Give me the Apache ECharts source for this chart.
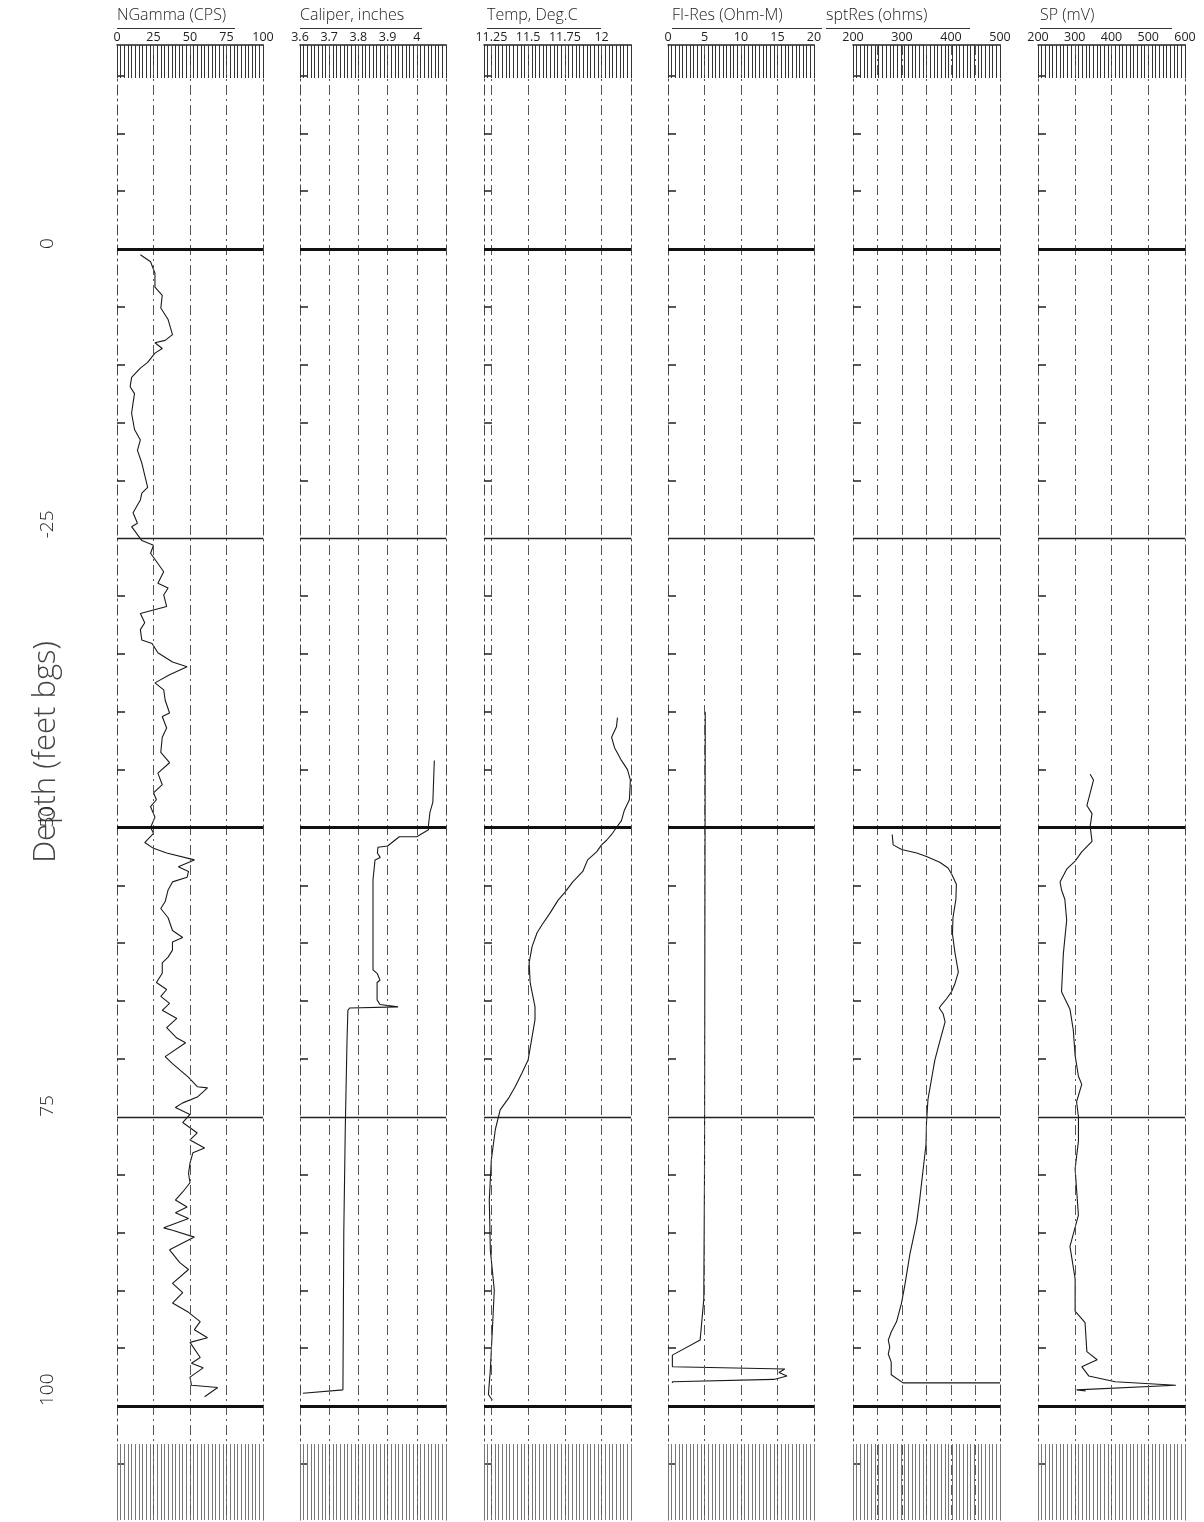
<!DOCTYPE html>
<html><head><meta charset="utf-8">
<script src="https://cdn.jsdelivr.net/npm/echarts@6/dist/echarts.min.js"></script>
<style>html,body{margin:0;padding:0;background:#fff}#c{width:1204px;height:1522px}</style>
</head><body><div id="c"></div>
<script>
// ---------------- data ----------------
const trackTitles = ['NGamma (CPS)', 'Caliper, inches', 'Temp, Deg.C', 'FI-Res (Ohm-M)', 'sptRes (ohms)', 'SP (mV)'];

const depthLabelValues = [0, 25, 50, 75, 100];
const depthLabels = ['0', '-25', '50', '75', '100'];
const majorDepths = [0, 50, 100];
const minorDepths = [25, 75];
const depthTickMarks = [-15, -10, -5, 5, 10, 15, 20, 30, 35, 40, 45, 55, 60, 65, 70, 80, 85, 90, 95, 105];

const gammaTicks = [0, 25, 50, 75, 100];
const gammaTickLabels = ['0', '25', '50', '75', '100'];
const gammaGrid = [25, 50, 75];
const gammaDepth = [0.5,1.1,2.1,3.3,4.0,5.1,6.1,7.4,7.9,8.1,8.6,9.0,9.8,10.3,11.1,11.9,12.5,13.3,14.2,15.6,16.5,17.4,18.5,20.6,21.1,21.7,22.8,23.7,24.0,25.2,25.6,26.3,27.9,28.9,29.3,29.9,30.9,31.2,31.5,32.3,32.9,33.8,34.1,34.9,35.7,36.1,36.8,37.5,38.1,39.0,40.1,40.4,41.4,42.2,43.5,44.4,45.3,46.3,47.0,47.6,48.2,49.1,50.0,50.5,51.3,51.8,52.2,52.8,53.4,53.8,54.3,54.7,55.4,56.4,57.0,57.8,58.9,59.5,59.9,60.6,61.2,61.7,62.6,63.4,64.0,64.6,65.2,65.8,66.5,67.3,68.2,68.6,69.8,70.4,71.6,72.4,72.5,73.3,73.8,74.2,74.8,75.5,76.4,77.0,77.7,78.1,79.0,79.9,80.7,81.5,82.2,82.8,83.3,83.8,84.6,84.8,85.4,86.5,87.6,88.2,89.4,90.2,91.1,91.9,92.7,93.4,94.1,94.5,95.8,96.3,96.7,97.5,98.2,98.4,99.2];
const gammaValues = [16,23,26,26,31,30,35,38,33,26,31,26,21,16,10,9,12,11,10,12,16,14,17,21,17,16,11,14,10,17,25,23,32,28,35,32,34,25,16,19,16,17,24,28,38,48,36,26,32,33,36,31,34,31,30,36,28,31,25,27,23,26,23,25,19,25,34,53,42,49,48,38,35,33,30,35,38,45,38,38,35,31,31,27,34,30,36,31,41,34,41,47,33,38,49,55,62,55,45,40,50,45,55,50,60,52,50,49,50,45,40,48,40,49,32,38,53,36,43,49,38,45,38,49,57,53,62,50,57,51,59,50,51,69,60];

const caliperTicks = [3.6, 3.7, 3.8, 3.9, 4.0];
const caliperTickLabels = ['3.6', '3.7', '3.8', '3.9', '4'];
const caliperGrid = [3.7, 3.8, 3.9, 4.0];
const caliperDepth = [44.2,47.8,48.7,49.8,50.2,50.8,50.8,51.6,51.7,52.2,52.6,52.8,54.5,62.3,62.6,63.2,63.4,64.9,65.3,65.5,65.6,65.8,68.4,76.1,85.0,98.6,98.9];
const caliperValues = [4.06,4.055,4.045,4.04,4.04,4.0,3.94,3.90,3.867,3.865,3.875,3.857,3.85,3.85,3.864,3.874,3.864,3.864,3.874,3.936,3.77,3.764,3.761,3.755,3.75,3.747,3.61];

const tempTicks = [11.25, 11.5, 11.75, 12];
const tempTickLabels = ['11.25', '11.5', '11.75', '12'];
const tempGrid = [11.25, 11.5, 11.75, 12];
const tempDepth = [40.5,41.3,42.2,43.1,44.2,45.0,45.9,47.6,48.5,49.4,50.0,50.5,51.1,51.5,52.1,52.8,53.8,54.7,55.6,56.3,57.4,58.4,59.1,60.3,61.7,63.4,65.5,66.6,68.1,70.1,71.2,72.4,73.3,74.4,76.1,78.7,82.2,86.5,90.0,93.4,96.9,99.0,99.5];
const tempValues = [12.108,12.101,12.068,12.088,12.135,12.176,12.196,12.189,12.155,12.135,12.101,12.074,12.034,12.0,11.966,11.905,11.872,11.804,11.75,11.703,11.649,11.595,11.561,11.527,11.507,11.514,11.547,11.547,11.527,11.5,11.459,11.412,11.372,11.31,11.277,11.25,11.236,11.243,11.27,11.257,11.243,11.23,11.257];

const resTicks = [0, 5, 10, 15, 20];
const resTickLabels = ['0', '5', '10', '15', '20'];
const resGrid = [5, 10, 15];
const resDepth = [40.0,42.5,60.0,80.0,90.8,94.3,95.6,96.6,96.8,97.1,97.4,97.7,97.9,98.0];
const resValues = [5.1,5.1,5.05,5.0,4.9,4.4,0.6,0.6,16.0,15.2,16.3,14.5,0.6,0.6];

const sptTicks = [200, 300, 400, 500];
const sptTickLabels = ['200', '300', '400', '500'];
const sptGrid = [250, 300, 350, 400, 450];
const sptDepth = [50.6,51.5,51.9,52.2,52.5,53.0,53.5,54.0,54.9,56.2,57.8,59.2,60.8,62.5,63.5,64.2,64.8,65.3,65.6,66.1,66.8,68.5,70.1,71.8,73.5,75.5,77.4,79.6,82.2,84.1,86.9,89.5,91.1,92.7,93.6,94.3,94.9,95.5,96.2,97.3,98.0,98.0];
const sptValues = [280,282,299,330,350,377,394,401,411,410,404,403,408,415,408,401,391,381,376,384,388,377,367,360,353,350,349,343,336,330,316,306,299,289,278,272,275,272,278,278,302,500];

const spTicks = [200, 300, 400, 500, 600];
const spTickLabels = ['200', '300', '400', '500', '600'];
const spGrid = [300, 400, 500];
const spDepth = [45.4,45.9,47.0,48.1,48.8,49.9,51.2,52.1,52.9,53.6,54.7,55.4,56.2,58.0,60.9,64.2,65.7,67.5,69.7,71.5,72.2,73.7,75.0,77.1,79.5,83.5,86.2,89.0,91.8,92.8,95.3,96.0,96.6,97.4,97.9,98.2,98.6,98.7];
const spValues = [342,351,342,333,347,342,347,319,301,278,260,264,273,278,269,264,287,296,301,310,319,305,310,310,301,310,287,301,301,328,333,361,319,338,410,575,305,330];

// ---------------- layout ----------------
const FONT = "'Open Sans', 'DejaVu Sans', sans-serif";
const DEPTH_MIN = -17.63, DEPTH_MAX = 109.85;
const GRID_TOP = 45, GRID_H = 1475;
const panels = [
  {left:117, width:146, min:0, max:100, ticks:gammaTicks, labels:gammaTickLabels, grid:gammaGrid, depth:gammaDepth, vals:gammaValues, tx:117, ul:118},
  {left:300, width:146, min:3.6, max:4.1, ticks:caliperTicks, labels:caliperTickLabels, grid:caliperGrid, depth:caliperDepth, vals:caliperValues, tx:300, ul:122},
  {left:484, width:147, min:11.2, max:12.2, ticks:tempTicks, labels:tempTickLabels, grid:tempGrid, depth:tempDepth, vals:tempValues, tx:487, ul:114},
  {left:668, width:146, min:0, max:20, ticks:resTicks, labels:resTickLabels, grid:resGrid, depth:resDepth, vals:resValues, tx:672, ul:150},
  {left:853, width:147, min:200, max:500, ticks:sptTicks, labels:sptTickLabels, grid:sptGrid, depth:sptDepth, vals:sptValues, tx:826, ul:144},
  {left:1038, width:147, min:200, max:600, ticks:spTicks, labels:spTickLabels, grid:spGrid, depth:spDepth, vals:spValues, tx:1040, ul:132}
];

const dashDot = [10, 4, 2, 4];
const grids = [], xAxes = [], yAxes = [], series = [], graphics = [];

panels.forEach((p, i) => {
  grids.push({left: p.left, width: p.width, top: GRID_TOP, height: GRID_H, containLabel: false});
  xAxes.push({
    type: 'value', gridIndex: i, position: 'top', min: p.min, max: p.max,
    axisLine: {show: false, onZero: false}, axisTick: {show: false}, splitLine: {show: false},
    axisLabel: {show: true, customValues: p.ticks, margin: 1, fontFamily: FONT, fontSize: 12.5, color: '#222',
      formatter: (v) => { const k = p.ticks.findIndex(t => Math.abs(t - v) < 1e-9); return k >= 0 ? p.labels[k] : ''; }}
  });
  xAxes.push({
    type: 'value', gridIndex: i, position: 'top', min: 0, max: 40, interval: 1,
    axisLine: {show: true, onZero: false, lineStyle: {color: '#222', width: 1.5}},
    axisTick: {show: true, inside: true, length: 33, lineStyle: {color: '#333', width: 1}},
    axisLabel: {show: false}, splitLine: {show: false}
  });
  xAxes.push({
    type: 'value', gridIndex: i, position: 'bottom', min: 0, max: 40, interval: 1,
    axisLine: {show: false, onZero: false},
    axisTick: {show: true, inside: true, length: 76, lineStyle: {color: '#777', width: 1}},
    axisLabel: {show: false}, splitLine: {show: false}
  });
  yAxes.push({
    type: 'value', gridIndex: i, position: 'left', inverse: true, min: DEPTH_MIN, max: DEPTH_MAX,
    axisLine: {show: true, onZero: false, lineStyle: {color: '#444', width: 1, type: dashDot}},
    axisTick: {show: true, inside: true, length: 8, customValues: depthTickMarks, lineStyle: {color: '#222', width: 1.5}},
    splitLine: {show: false},
    axisLabel: i === 0 ? {show: true, customValues: depthLabelValues, rotate: 90, align: 'left', margin: 60,
      fontFamily: FONT, fontSize: 19, fontWeight: 300, color: '#222',
      formatter: (v) => { const k = depthLabelValues.indexOf(v); return k >= 0 ? depthLabels[k] : ''; }} : {show: false}
  });
  yAxes.push({
    type: 'value', gridIndex: i, position: 'right', inverse: true, min: DEPTH_MIN, max: DEPTH_MAX,
    axisLine: {show: true, onZero: false, lineStyle: {color: '#444', width: 1, type: dashDot}},
    axisTick: {show: false}, axisLabel: {show: false}, splitLine: {show: false}
  });

  const mlData = [];
  p.grid.forEach(v => mlData.push({xAxis: v}));
  majorDepths.forEach(d => mlData.push({yAxis: d, lineStyle: {type: 'solid', width: 3, color: '#111'}}));
  minorDepths.forEach(d => mlData.push({yAxis: d, lineStyle: {type: 'solid', width: 1.3, color: '#222'}}));

  series.push({
    type: 'line', xAxisIndex: i * 3, yAxisIndex: i * 2,
    data: p.depth.map((d, k) => [p.vals[k], d]),
    showSymbol: false, symbol: 'none', animation: false, silent: true,
    lineStyle: {color: '#1a1a1a', width: 1.1},
    markLine: {silent: true, symbol: ['none', 'none'], animation: false, label: {show: false},
      lineStyle: {color: '#555', width: 1, type: dashDot}, data: mlData}
  });

  graphics.push({type: 'text', left: p.tx, top: 7,
    style: {text: trackTitles[i], fontFamily: FONT, fontSize: 16, fontWeight: 300, fill: '#222'}});
  graphics.push({type: 'line', shape: {x1: p.tx, y1: 28.5, x2: p.tx + p.ul, y2: 28.5},
    style: {stroke: '#333', lineWidth: 1.2}});
});

graphics.push({type: 'text', x: 46, y: 752, rotation: Math.PI / 2,
  style: {text: 'Depth (feet bgs)', fontFamily: FONT, fontSize: 31, fontWeight: 300, fill: '#444', align: 'center', verticalAlign: 'middle'}});

const chart = echarts.init(document.getElementById('c'), null, {renderer: 'canvas'});
chart.setOption({
  backgroundColor: '#fff',
  animation: false,
  grid: grids, xAxis: xAxes, yAxis: yAxes, series: series,
  graphic: graphics
});
</script></body></html>
